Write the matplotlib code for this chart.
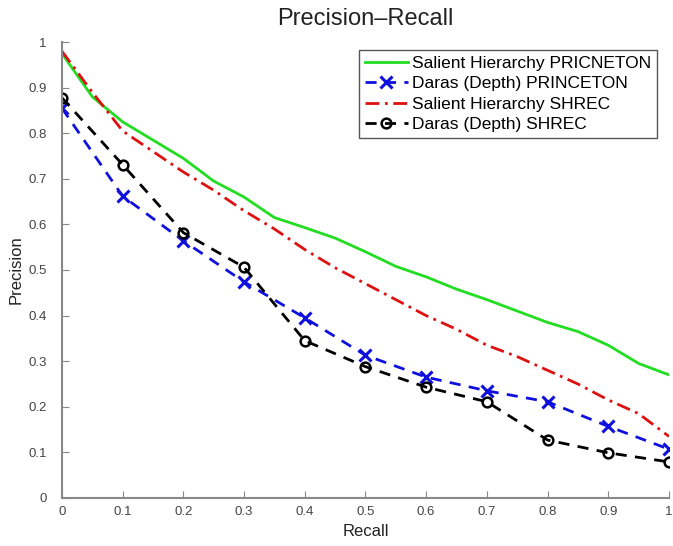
import numpy as np
import matplotlib
matplotlib.use("Agg")
import matplotlib.pyplot as plt
from matplotlib.ticker import FuncFormatter

plt.rcParams['font.family'] = ['Liberation Sans', 'DejaVu Sans']

# Curvas finas (cada 0.05)
recall_fino = [0.0, 0.05, 0.1, 0.15, 0.2, 0.25, 0.3, 0.35, 0.4, 0.45, 0.5,
               0.55, 0.6, 0.65, 0.7, 0.75, 0.8, 0.85, 0.9, 0.95, 1.0]
salient_princeton = [0.975, 0.88, 0.825, 0.785, 0.745, 0.695, 0.66, 0.615, 0.593, 0.57, 0.54,
                     0.508, 0.485, 0.458, 0.435, 0.41, 0.385, 0.365, 0.335, 0.295, 0.27]
salient_shrec = [0.98, 0.89, 0.805, 0.76, 0.715, 0.675, 0.63, 0.59, 0.545, 0.505, 0.47,
                 0.435, 0.40, 0.37, 0.335, 0.31, 0.28, 0.25, 0.215, 0.185, 0.135]

# Curvas con marcadores (cada 0.1)
recall = [0.0, 0.1, 0.2, 0.3, 0.4, 0.5, 0.6, 0.7, 0.8, 0.9, 1.0]
daras_princeton = [0.855, 0.662, 0.564, 0.474, 0.395, 0.313, 0.265, 0.235, 0.211, 0.157, 0.107]
daras_shrec = [0.878, 0.731, 0.582, 0.506, 0.345, 0.288, 0.243, 0.211, 0.127, 0.099, 0.079]

etiquetas = ['Salient Hierarchy PRICNETON', 'Daras (Depth) PRINCETON',
             'Salient Hierarchy SHREC', 'Daras (Depth) SHREC']

fig = plt.figure(figsize=(6.73, 5.46), dpi=100)
ax = fig.add_axes([0.092, 0.088, 0.902, 0.835])

ax.plot(recall_fino, salient_princeton, color='#22dd22', lw=2, label=etiquetas[0])
ax.plot(recall, daras_princeton, color='#1010dd', lw=2, ls=(0, (4, 3)),
        marker='x', ms=9, mew=2.2, label=etiquetas[1])
ax.plot(recall_fino, salient_shrec, color='#dd1111', lw=2, ls=(0, (5, 2, 1, 2)),
        label=etiquetas[2])
ax.plot(recall, daras_shrec, color='black', lw=2, ls=(0, (4, 3)),
        marker='o', ms=7, mew=1.8, mfc='none', label=etiquetas[3])

ax.set_xlim(0, 1)
ax.set_ylim(0, 1)
ax.set_xticks(np.arange(0, 1.01, 0.1))
ax.set_yticks(np.arange(0, 1.01, 0.1))
fmt = FuncFormatter(lambda v, p: f"{v:.1f}".rstrip('0').rstrip('.') if v not in (0, 1) else str(int(v)))
ax.xaxis.set_major_formatter(fmt)
ax.yaxis.set_major_formatter(fmt)
ax.tick_params(direction='in', length=5, color='#888888', labelsize=9.5, labelcolor='#444444')
ax.tick_params(axis='x', pad=6)
ax.tick_params(axis='y', pad=11)

for lado in ['top', 'right']:
    ax.spines[lado].set_visible(False)
for lado in ['left', 'bottom']:
    ax.spines[lado].set_color('#888888')
    ax.spines[lado].set_linewidth(1.5)

ax.set_xlabel('Recall', fontsize=12, color='#222222', labelpad=4)
ax.set_ylabel('Precision', fontsize=12, color='#222222', labelpad=3)
ax.set_title('Precision–Recall', fontsize=17, color='#222222', pad=12)

leg = ax.legend(loc='upper right', bbox_to_anchor=(0.98, 0.983), fontsize=12.5,
                handlelength=2.5, handletextpad=0.2, borderpad=0.35, labelspacing=0.3,
                fancybox=False, framealpha=1, borderaxespad=0)
leg.get_frame().set_edgecolor('#555555')
leg.get_frame().set_linewidth(1)

fig.savefig('out.png', dpi=100)
